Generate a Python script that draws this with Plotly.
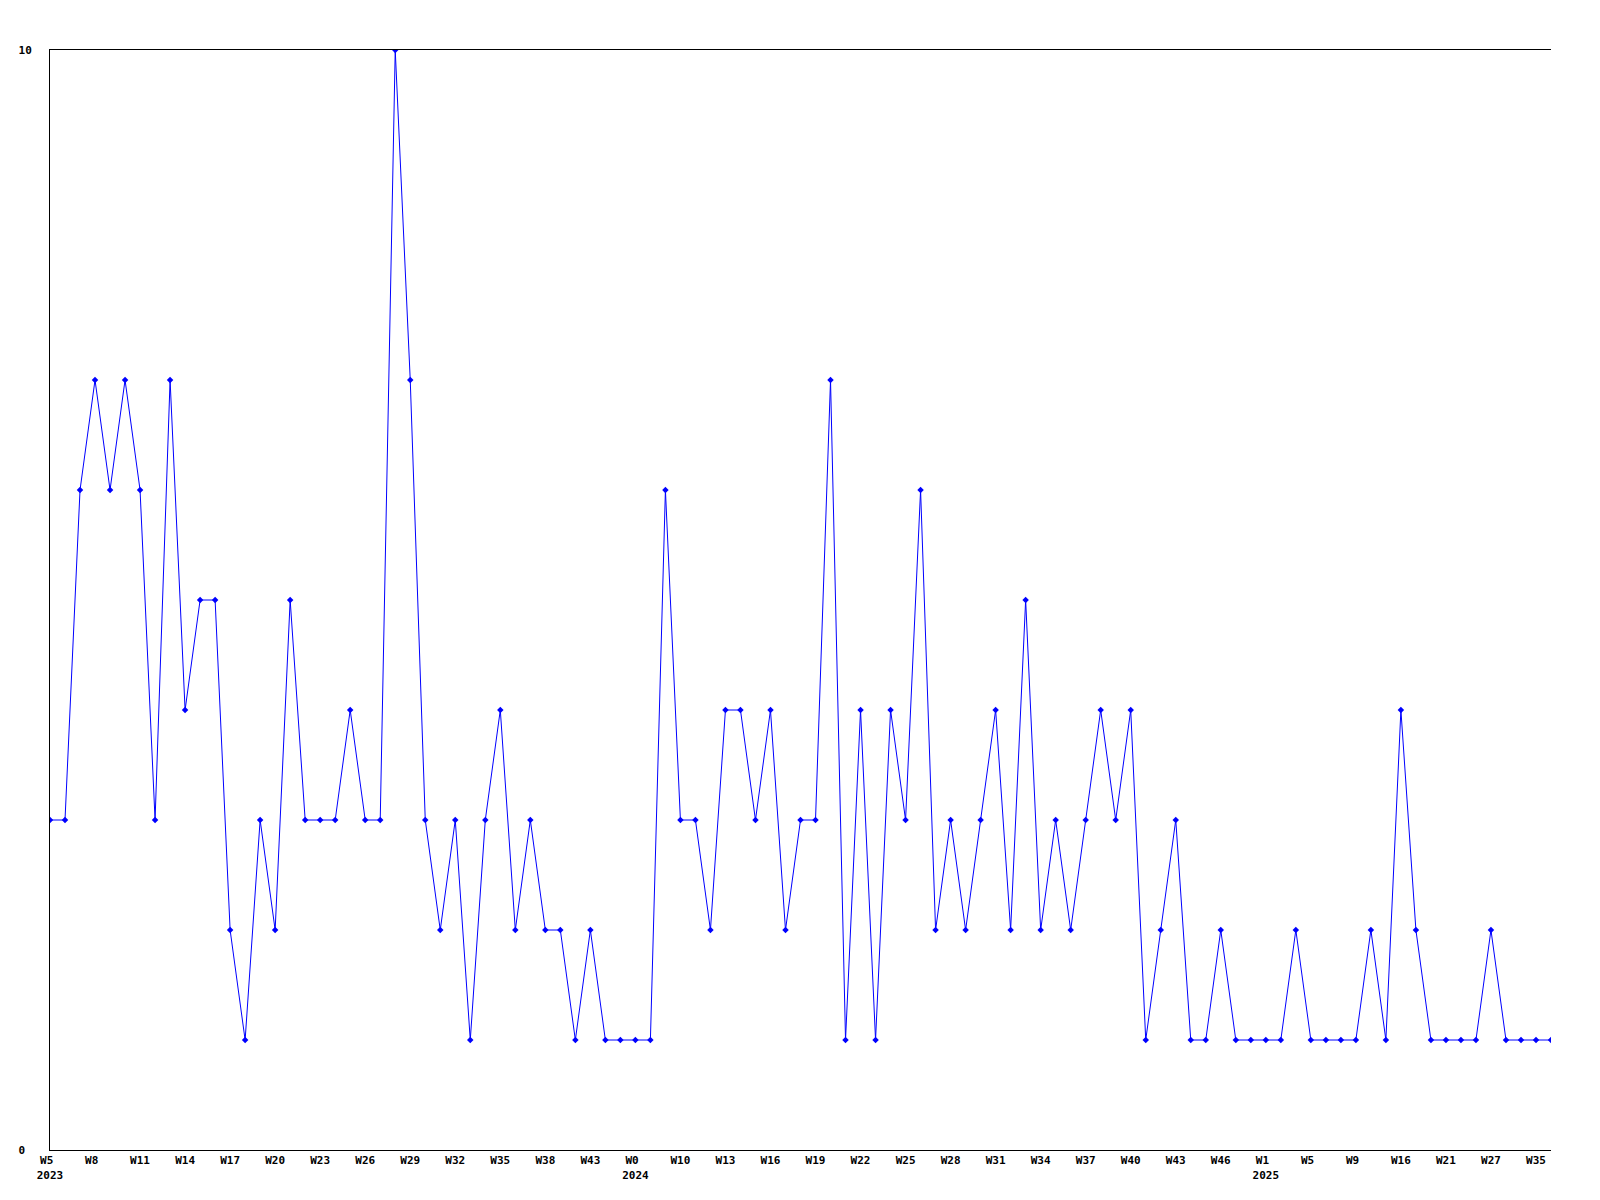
import plotly.graph_objects as go

# week label of every data point (intermediate weeks between shown ticks estimated)
weeks = (
    [f"W{w}" for w in range(5, 39)]            # 2023: W5..W38
    + ["W40", "W42", "W43", "W45", "W50"]      # 2023 tail
    + ["W0", "W3", "W9"]                       # 2024 start
    + [f"W{w}" for w in range(10, 47)]         # 2024: W10..W46
    + ["W48", "W50"]                           # 2024 tail
    + ["W1", "W2", "W4", "W5", "W6", "W8", "W9", "W11", "W14", "W16",
       "W18", "W20", "W21", "W23", "W25", "W27", "W30", "W33", "W35", "W37"]  # 2025
)
years = ["2023"] * 39 + ["2024"] * 42 + ["2025"] * 20

values = [
    3, 3, 6, 7, 6, 7, 6, 3, 7, 4,
    5, 5, 2, 1, 3, 2, 5, 3, 3, 3,
    4, 3, 3, 10, 7, 3, 2, 3, 1, 3,
    4, 2, 3, 2, 2, 1, 2, 1, 1, 1,
    1, 6, 3, 3, 2, 4, 4, 3, 4, 2,
    3, 3, 7, 1, 4, 1, 4, 3, 6, 2,
    3, 2, 3, 4, 2, 5, 2, 3, 2, 3,
    4, 3, 4, 1, 2, 3, 1, 1, 2, 1,
    1, 1, 1, 2, 1, 1, 1, 1, 2, 1,
    4, 2, 1, 1, 1, 1, 2, 1, 1, 1,
    1,
]

y_ticks = [0, 10]

x = list(range(len(values)))

tickvals = []
ticktext = []
for i in range(0, len(values), 3):
    lab = weeks[i]
    if len(lab) == 2:
        lab = lab + "\u00a0"
    first_of_year = (i == 0) or any(years[j] != years[i] for j in range(max(0, i - 2), i))
    if first_of_year:
        lab = lab + "<br>" + years[i]
    tickvals.append(i)
    ticktext.append(lab)

fig = go.Figure()
fig.add_trace(go.Scatter(
    x=x, y=values,
    mode="lines+markers",
    line=dict(color="#0000FF", width=1),
    marker=dict(symbol="diamond", size=5, color="#0000FF"),
    hoverinfo="skip",
))

font = dict(family="DejaVu Sans Mono", size=11, color="#000000", weight="bold")

fig.update_layout(
    width=1600, height=1200,
    margin=dict(l=42, r=57, t=42, b=58),
    paper_bgcolor="white", plot_bgcolor="white",
    showlegend=False,
    font=font,
)
fig.update_xaxes(
    range=[0, len(values) - 1],
    tickmode="array", tickvals=tickvals, ticktext=ticktext,
    tickangle=0,
    showgrid=False, zeroline=False,
    showline=True, linecolor="black", linewidth=1, mirror=True,
    ticks="", tickfont=font,
)
fig.update_yaxes(
    range=[0, 10],
    tickmode="array", tickvals=y_ticks, ticktext=["0\u00a0", "10"],
    showgrid=False, zeroline=False,
    showline=True, linecolor="black", linewidth=1, mirror=False,
    ticks="", tickfont=font, ticklabelstandoff=15,
)

fig.write_html("out.html")
